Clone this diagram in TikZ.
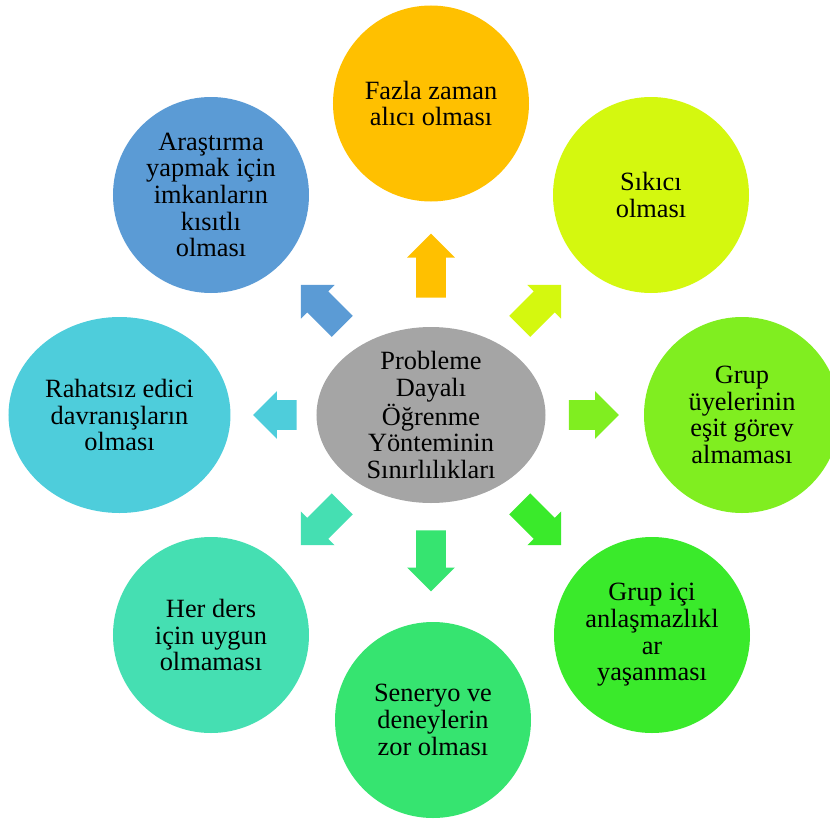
\documentclass[tikz,border=0pt]{standalone}
\usepackage{fontspec}
\setmainfont{Liberation Serif}
\usetikzlibrary{shapes.geometric,shapes.arrows}
\definecolor{hubgray}{HTML}{A5A5A5}
\definecolor{timeorange}{HTML}{FFC000}
\definecolor{boringlime}{HTML}{D4F80F}
\definecolor{rolesgreen}{HTML}{80EE20}
\definecolor{conflictgreen}{HTML}{3AEA2B}
\definecolor{scenariogreen}{HTML}{36E470}
\definecolor{fitteal}{HTML}{45DFB2}
\definecolor{behaviourcyan}{HTML}{4ECDDB}
\definecolor{resourcesblue}{HTML}{5B9BD5}
\begin{document}
\begin{tikzpicture}[every node/.style={font=\fontsize{15}{15.2}\selectfont,align=center,inner sep=0pt},
  bubble/.style={circle,minimum size=3.92cm},
  blockarrow/.style={single arrow,anchor=tail,inner ysep=0.29cm,minimum width=0.94cm,single arrow head extend=0.18cm,minimum height=#1}]
\useasboundingbox (-8.62,-8.06) rectangle (7.98,8.3);
\node[ellipse,fill=hubgray,minimum width=4.58cm,minimum height=3.52cm,inner ysep=-4pt] (hub) at (0,0) {Probleme\\Dayalı\\Öğrenme\\Yönteminin\\Sınırlılıkları};
\node[bubble,fill=timeorange] (time) at (0,6.23) {Fazla zaman\\alıcı olması};
\node[bubble,fill=boringlime] (boring) at (4.4,4.4) {Sıkıcı\\olması};
\node[bubble,fill=rolesgreen] (roles) at (6.22,0) {Grup\\üyelerinin\\eşit görev\\almaması};
\node[bubble,fill=conflictgreen] (conflict) at (4.42,-4.4) {Grup içi\\anlaşmazlıkl\\ar\\yaşanması};
\node[bubble,fill=scenariogreen] (scenario) at (0.04,-6.1) {Seneryo ve\\deneylerin\\zor olması};
\node[bubble,fill=fitteal] (fit) at (-4.4,-4.4) {Her ders\\için uygun\\olmaması};
\node[ellipse,fill=behaviourcyan,minimum width=4.44cm,minimum height=3.92cm] (behaviour) at (-6.23,0) {Rahatsız edici\\davranışların\\olması};
\node[bubble,fill=resourcesblue] (resources) at (-4.4,4.4) {Araştırma\\yapmak için\\imkanların\\kısıtlı\\olması};
%\draw[step=1cm,gray,very thin] (-8,-8) grid (8,8);
\node[blockarrow=1.28cm,fill=timeorange,rotate=90] (aTime) at (0,2.34) {};
\node[blockarrow=1.17cm,fill=boringlime,rotate=45] (aBoring) at (1.77,1.77) {};
\node[blockarrow=1cm,fill=rolesgreen] (aRoles) at (2.75,0) {};
\node[blockarrow=1.17cm,fill=conflictgreen,rotate=-45] (aConflict) at (1.77,-1.77) {};
\node[blockarrow=1.22cm,fill=scenariogreen,rotate=-90] (aScenario) at (0,-2.3) {};
\node[blockarrow=1.17cm,fill=fitteal,rotate=-135] (aFit) at (-1.77,-1.77) {};
\node[blockarrow=0.87cm,fill=behaviourcyan,rotate=180] (aBehaviour) at (-2.68,0) {};
\node[blockarrow=1.17cm,fill=resourcesblue,rotate=135] (aResources) at (-1.77,1.77) {};
\end{tikzpicture}
\end{document}
